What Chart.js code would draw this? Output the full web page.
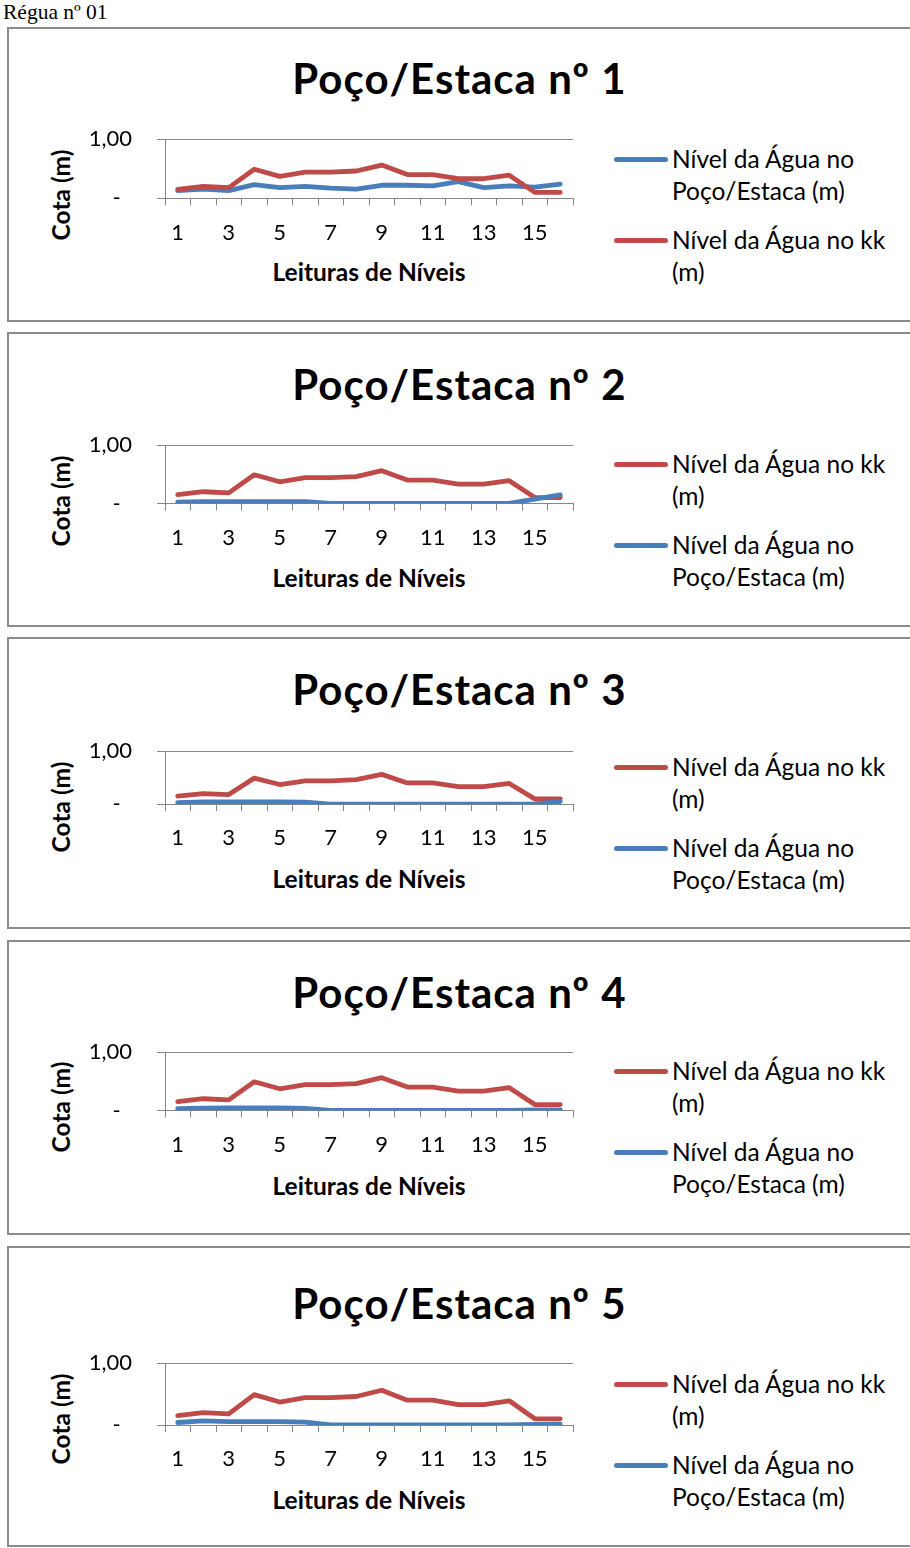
<!DOCTYPE html>
<html><head><meta charset="utf-8">
<script src="https://cdn.jsdelivr.net/npm/chart.js@4/dist/chart.umd.min.js"></script>
<style>
html,body{margin:0;padding:0;background:#fff;}
body{position:relative;width:910px;height:1548px;overflow:hidden;font-family:Lato,"Open Sans",sans-serif;color:#000;}
#hdr{position:absolute;left:3px;top:0px;font:21.5px "Liberation Serif","Times New Roman",serif;line-height:24px;white-space:nowrap;}
.box{position:absolute;left:7px;width:930px;border:2px solid #8a8a8a;box-sizing:border-box;}
.cv{position:absolute;left:9px;width:620px;}
.ttl{position:absolute;left:9px;width:901px;text-align:center;font-weight:bold;font-size:42px;letter-spacing:1px;line-height:50px;white-space:nowrap;}
.ytl,.xtl{position:absolute;width:0;height:0;}
.ytl{left:61px;}
.xtl{left:369px;}
.ytl span,.xtl span{position:absolute;font-weight:bold;font-size:24.5px;line-height:28px;white-space:nowrap;}
.ytl span{transform:translate(-50%,-50%) rotate(-90deg);}
.xtl span{transform:translate(-50%,-50%);}
.leg{position:absolute;left:614px;}
.item{position:absolute;left:0;width:300px;}
.item i{position:absolute;left:0;top:-2px;width:54px;height:4.5px;border-radius:3px;}
.item span{position:absolute;left:58px;top:-16px;font-size:24.5px;line-height:32px;white-space:nowrap;}
</style></head>
<body>
<div id="hdr">Régua nº 01</div>
<script>
// ---- data ----
const leituras = ['1','2','3','4','5','6','7','8','9','10','11','12','13','14','15','16'];
const xTickLabels = ['1','','3','','5','','7','','9','','11','','13','','15',''];
const nivelKK = [0.15,0.20,0.18,0.49,0.37,0.44,0.44,0.46,0.56,0.40,0.40,0.33,0.33,0.39,0.10,0.10];
const nivelPoco1 = [0.13,0.155,0.13,0.23,0.18,0.20,0.17,0.155,0.22,0.22,0.21,0.28,0.18,0.21,0.19,0.24];
const nivelPoco2 = [0.02,0.03,0.03,0.03,0.03,0.03,0,0,0,0,0,0,0,0,0.075,0.145];
const nivelPoco3 = [0.03,0.045,0.045,0.045,0.045,0.04,0,0,0,0,0,0,0,0,0.005,0.05];
const nivelPoco4 = [0.03,0.04,0.045,0.045,0.045,0.035,0,0,0,0,0,0,0,0,0.01,0.01];
const nivelPoco5 = [0.04,0.065,0.055,0.055,0.055,0.045,0,0,0,0,0,0,0,0,0.01,0.015];
const yTickLabels = {0:'-  ', 1:'1,00'};
const titles = ['Poço/Estaca nº 1','Poço/Estaca nº 2','Poço/Estaca nº 3','Poço/Estaca nº 4','Poço/Estaca nº 5'];
const xTitle = 'Leituras de Níveis';
const yTitle = 'Cota (m)';
const labelPoco = ['Nível da Água no','Poço/Estaca (m)'];
const labelKK = ['Nível da Água no kk','(m)'];
const pocoSeries = [nivelPoco1,nivelPoco2,nivelPoco3,nivelPoco4,nivelPoco5];
const kkFirst = [false,true,true,true,true];

// ---- layout (page px) ----
const boxes = [
 {top:27,  bot:322,  titleY:78,   plotTop:139,  plotBot:198,  yT:195,  xT:272,  leg:159},
 {top:332, bot:627,  titleY:384,  plotTop:445,  plotBot:503,  yT:501,  xT:578,  leg:464},
 {top:637, bot:929,  titleY:689,  plotTop:751,  plotBot:803,  yT:807,  xT:879,  leg:767},
 {top:940, bot:1235, titleY:992,  plotTop:1052, plotBot:1110, yT:1107, xT:1186, leg:1071},
 {top:1246,bot:1547, titleY:1303, plotTop:1363, plotBot:1425, yT:1419, xT:1500, leg:1384}
];
const BLUE='#4A7EBB', RED='#BE4B48', AXIS='#868686';
const PLOT_L=165, PLOT_R=573, CV_L=9;

function el(tag, cls, style, parent){const e=document.createElement(tag); if(cls) e.className=cls; Object.assign(e.style, style||{}); (parent||document.body).appendChild(e); return e;}

boxes.forEach((b,i)=>{
  el('div','box',{top:b.top+'px',height:(b.bot-b.top)+'px'});
  const t=el('div','ttl',{top:(b.titleY-25)+'px'}); t.textContent=titles[i];
  const yt=el('div','ytl',{top:b.yT+'px'}); el('span','',{},yt).textContent=yTitle;
  const xt=el('div','xtl',{top:b.xT+'px'}); el('span','',{},xt).textContent=xTitle;
  const lg=el('div','leg',{top:b.leg+'px'});
  const items = kkFirst[i] ? [[RED,labelKK],[BLUE,labelPoco]] : [[BLUE,labelPoco],[RED,labelKK]];
  items.forEach((it,k)=>{
    const d=el('div','item',{top:(k*81)+'px'},lg);
    el('i','',{background:it[0]},d);
    const s=el('span','',{},d); s.innerHTML=it[1][0]+'<br>'+it[1][1];
  });
  const cvTop=b.top+2, cvH=b.bot-b.top-4;
  const c=el('canvas','cv',{top:cvTop+'px',height:cvH+'px'});
  c.width=620; c.height=cvH;
  const want={left:PLOT_L-CV_L, right:PLOT_R-CV_L, top:b.plotTop-cvTop, bottom:b.plotBot-cvTop};
  const pocoDs={label:labelPoco.join(' '), data:pocoSeries[i], borderColor:BLUE, backgroundColor:BLUE, order: kkFirst[i]?0:1};
  const kkDs={label:labelKK.join(' '), data:nivelKK, borderColor:RED, backgroundColor:RED, order: kkFirst[i]?1:0};
  const opts={
    responsive:false, animation:false, events:[],
    layout:{padding:{left:40,right:40,top:20,bottom:10}},
    elements:{line:{borderWidth:4.8,tension:0,borderJoinStyle:'round',borderCapStyle:'round'},point:{radius:0}},
    plugins:{legend:{display:false},title:{display:false},tooltip:{enabled:false}},
    scales:{
      x:{type:'category', offset:true,
         grid:{offset:true,drawOnChartArea:false,color:AXIS,tickLength:7,lineWidth:1},
         border:{display:true,color:AXIS,width:1},
         ticks:{autoSkip:false,maxRotation:0,padding:14,color:'#000',font:{family:'Lato',size:22},
                callback:(v,idx)=>xTickLabels[idx]}},
      y:{min:0,max:1,
         ticks:{stepSize:1,padding:25,color:'#000',font:{family:'Lato',size:22},callback:(v)=>yTickLabels[v]},
         grid:{color:AXIS,tickLength:8,lineWidth:1},
         border:{display:true,color:AXIS,width:1}}
    }
  };
  const ch=new Chart(c,{type:'line',data:{labels:leituras,datasets:kkFirst[i]?[kkDs,pocoDs]:[pocoDs,kkDs]},options:opts});
  for(let k=0;k<4;k++){
    const a=ch.chartArea, p=opts.layout.padding;
    p.left+=want.left-a.left; p.top+=want.top-a.top;
    p.right+=a.right-want.right; p.bottom+=a.bottom-want.bottom;
    ch.update('none');
  }
});
</script>
</body></html>
